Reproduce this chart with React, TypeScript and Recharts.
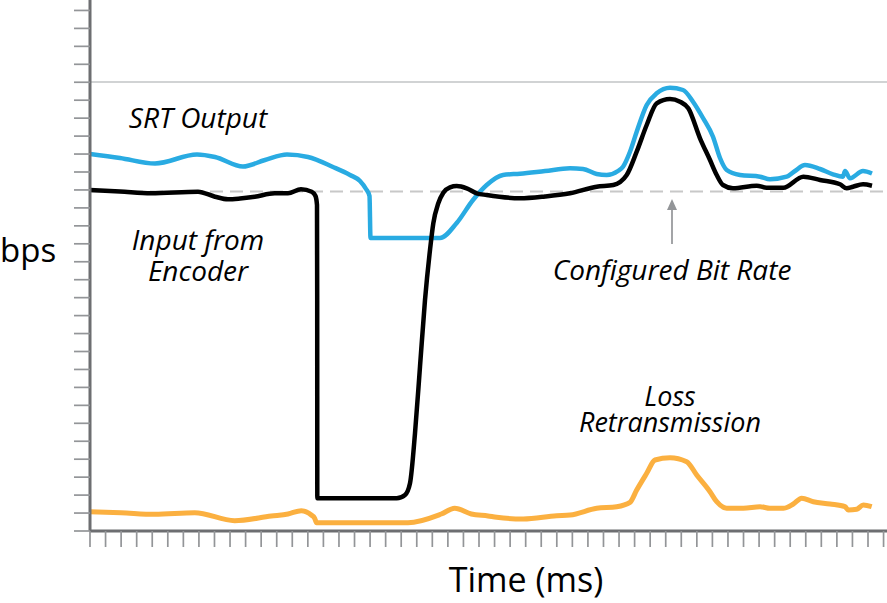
import React from 'react';
import { LineChart, Line, XAxis, YAxis, ReferenceLine, ReferenceDot } from 'recharts';

// x: time (ms, arbitrary units), y: bitrate (arbitrary units)
const srtOutput = [
  [0, 377], [30, 373], [65, 367.5], [107, 376.5], [125, 374], [153, 364.5], [175, 371], [197, 376.5],
  [218, 374], [243, 364], [260, 356], [270, 350], [276, 342], [279.5, 335], [280.5, 293], [350, 293],
  [366.7, 308], [383, 331], [396.7, 346], [413, 356], [430, 357.3], [455, 360], [480, 362.7], [493, 362],
  [506.7, 357], [516.7, 356], [528, 360], [533, 364.3], [540, 379.3], [546.7, 399.3], [556.7, 426],
  [566.7, 437.7], [580, 443.3], [593, 441], [603, 429.3], [613, 413], [623, 394.3], [630, 373],
  [636.7, 361], [650, 356], [670, 354.3], [680, 351.7], [696.7, 354.3], [705, 360], [715, 366],
  [730, 362], [743, 356.7], [753, 354.3], [755, 360], [760, 352.7], [773, 360], [782, 357.5],
].map(([x, y]) => ({ x, y }));

const encoderInput = [
  [0, 341], [30, 339.5], [61, 337.7], [108, 339.3], [125, 334.3], [138, 331.7], [150, 332.5],
  [164.7, 334.3], [184.7, 337.7], [198, 337.7], [211, 341.7], [221.7, 339.3], [225.5, 335], [227, 326],
  [227.2, 231], [227.3, 32.7], [306.7, 32.7], [315, 36], [320, 47.7], [325, 97.7], [330, 164.3],
  [335, 231], [340, 281], [343.3, 307.7], [348.3, 327.7], [353.3, 338.3], [360, 343.7], [366.7, 345],
  [376.7, 342.7], [386.7, 337.7], [396.7, 336], [430, 332.7], [455, 334.5], [480, 337.7], [506.7, 344.3],
  [523.3, 346], [536.7, 356], [546.7, 379.3], [556.7, 406], [566.7, 427.7], [580, 432], [590, 429.3],
  [598.3, 422.7], [610, 392.7], [620, 371], [626.7, 356], [633, 346], [643, 342.7], [666.7, 345.3],
  [676.7, 343.3], [693.3, 343.3], [713.3, 354.3], [730, 351], [750, 346.7], [756.7, 342.7], [763, 344.3],
  [773, 346.7], [782, 345.3],
].map(([x, y]) => ({ x, y }));

const lossRetransmission = [
  [0, 19.3], [31, 18.3], [64.7, 16.7], [104.7, 18.3], [144.7, 10.3], [181.3, 15], [198, 17], [211.3, 20.3],
  [221.3, 16], [224.7, 12.7], [226.5, 8.3], [318, 8.3], [351.3, 17], [364.7, 22.7], [381.3, 17], [398, 15],
  [406.7, 13.7], [433.3, 12], [466.7, 15.3], [480, 16], [506.7, 22.7], [526.7, 24.3], [540, 28.7],
  [546.7, 41], [556.7, 57.7], [565, 71], [580, 73.3], [596.7, 69.3], [606.7, 56], [620, 39.3],
  [626.7, 29.3], [636.7, 22.7], [653.3, 22.7], [670, 24.3], [680, 22.7], [693.3, 22.7], [703.3, 27],
  [711.7, 32.7], [723.3, 29.3], [740, 27], [755, 24.3], [758.3, 21], [766.7, 21.7], [773.3, 26], [781.7, 24.3],
].map(([x, y]) => ({ x, y }));

const configuredBitRate = 339.5;
const upperLimit = 449;

const xTicks = Array.from({ length: 52 }, (_, i) => i * 15.56);
const yTicks = Array.from({ length: 30 }, (_, i) => i * 17.95);

const FONT = "'Open Sans', sans-serif";

const textShape = (lines: string[], opts: { italic?: boolean; size: number; anchor?: string; lh?: number }) =>
  (p: any) => (
    <text
      x={p.cx}
      y={p.cy}
      textAnchor={opts.anchor || 'middle'}
      fontFamily={FONT}
      fontStyle={opts.italic ? 'italic' : 'normal'}
      fontSize={opts.size}
      fill="#000"
    >
      {lines.map((l, i) => (
        <tspan key={i} x={p.cx} dy={i === 0 ? 0 : opts.lh || 30}>{l}</tspan>
      ))}
    </text>
  );

const arrowHead = (p: any) => (
  <path d={`M ${p.cx} ${p.cy} L ${p.cx - 5} ${p.cy + 11} L ${p.cx + 5} ${p.cy + 11} Z`} fill="#939598" />
);

export default function App() {
  return (
    <div style={{ position: 'absolute', left: 0, top: 0, background: '#fff' }}>
      <LineChart width={887} height={603} margin={{ top: 0, right: 0, bottom: 0, left: 60 }}>
        <XAxis
          type="number"
          dataKey="x"
          domain={[0, 797]}
          ticks={xTicks}
          allowDataOverflow
          height={72}
          tickSize={16}
          tickFormatter={() => ''}
          axisLine={{ stroke: '#6d6e71', strokeWidth: 3 }}
          tickLine={{ stroke: '#939598', strokeWidth: 1.7 }}
        />
        <YAxis
          type="number"
          domain={[0, 531]}
          ticks={yTicks}
          allowDataOverflow
          width={30}
          tickSize={16}
          tickFormatter={() => ''}
          axisLine={{ stroke: '#6d6e71', strokeWidth: 3 }}
          tickLine={{ stroke: '#939598', strokeWidth: 1.7 }}
        />
        <ReferenceLine y={upperLimit} stroke="#d1d3d4" strokeWidth={2} />
        <ReferenceLine y={configuredBitRate} stroke="#c8c8c8" strokeWidth={2} strokeDasharray="13 7" />
        <Line data={lossRetransmission} dataKey="y" type="monotone" stroke="#fbb040" strokeWidth={5} dot={false} isAnimationActive={false} />
        <Line data={srtOutput} dataKey="y" type="monotone" stroke="#29abe2" strokeWidth={4.5} dot={false} isAnimationActive={false} />
        <Line data={encoderInput} dataKey="y" type="monotone" stroke="#000" strokeWidth={4.5} dot={false} isAnimationActive={false} />
        <ReferenceLine segment={[{ x: 582, y: 287 }, { x: 582, y: 325 }]} stroke="#939598" strokeWidth={1.7} />
        <ReferenceDot x={582} y={332} r={0} shape={arrowHead} />
        <ReferenceDot x={108} y={403} r={0} shape={textShape(['SRT Output'], { italic: true, size: 28 })} />
        <ReferenceDot x={108} y={281} r={0} shape={textShape(['Input from', 'Encoder'], { italic: true, size: 28, lh: 31 })} />
        <ReferenceDot x={582} y={251} r={0} shape={textShape(['Configured Bit Rate'], { italic: true, size: 28 })} />
        <ReferenceDot x={580} y={125} r={0} shape={textShape(['Loss', 'Retransmission'], { italic: true, size: 27, lh: 26 })} />
        <ReferenceDot x={-90} y={269} r={0} ifOverflow="visible" shape={textShape(['bps'], { size: 33, anchor: 'start' })} />
        <ReferenceDot x={436} y={-61} r={0} ifOverflow="visible" shape={textShape(['Time (ms)'], { size: 34 })} />
      </LineChart>
    </div>
  );
}
